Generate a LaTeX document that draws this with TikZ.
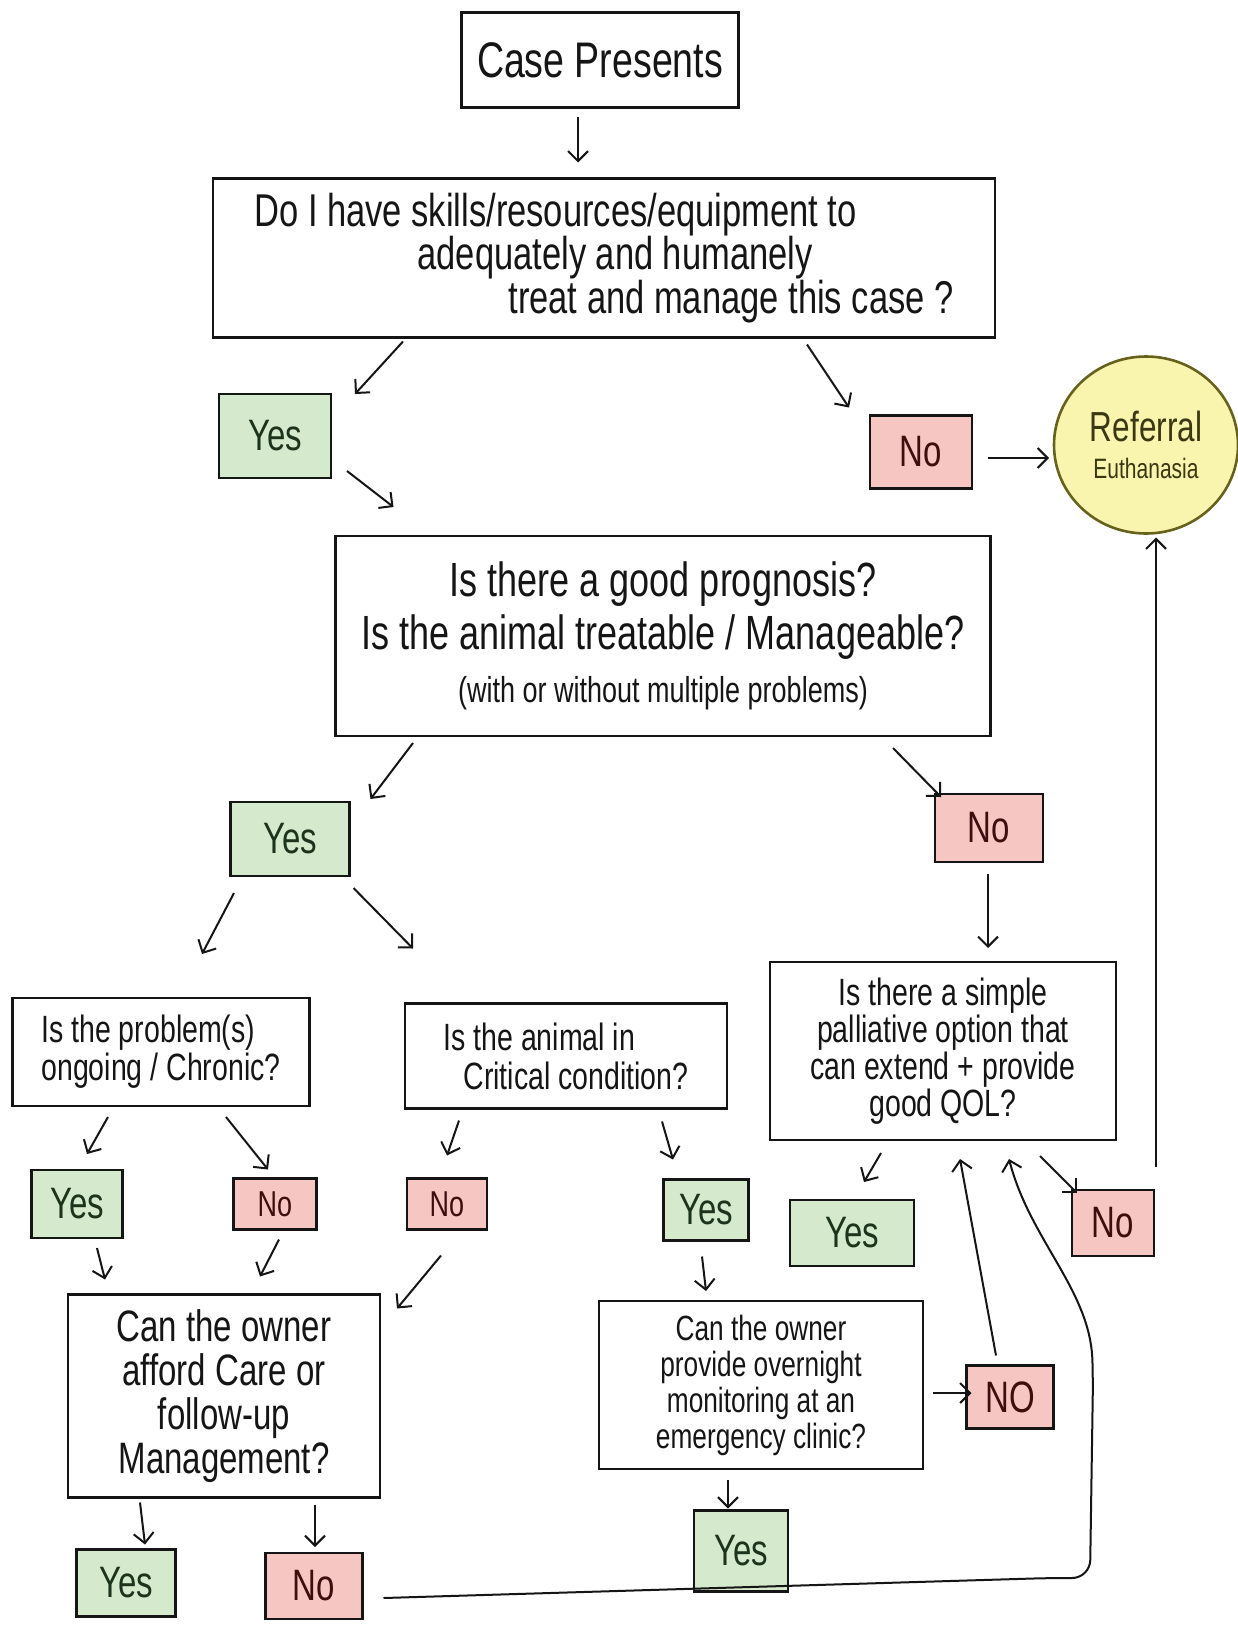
\documentclass[tikz,border=0pt]{standalone}
\usepackage{fontspec}
\setmainfont{Liberation Sans}[FakeStretch=0.75]
\usetikzlibrary{arrows.meta,shapes.geometric}
\definecolor{ink}{HTML}{151515}
\definecolor{yesfill}{HTML}{D5EACD}
\definecolor{yesink}{HTML}{1C331C}
\definecolor{nofill}{HTML}{F5C6C2}
\definecolor{noink}{HTML}{3E0D0D}
\definecolor{reffill}{HTML}{F9F4AE}
\definecolor{refedge}{HTML}{66621C}
\definecolor{refink}{HTML}{3A3812}
\newcommand{\fs}[2]{\fontsize{#1}{#2}\selectfont}

\begin{document}
\begin{tikzpicture}[
  x=1pt, y=-1pt,
  every node/.style={inner sep=0pt, outer sep=0pt, text=ink},
  qbox/.style={draw=ink, line width=2.8pt, fill=white, align=center},
  ans/.style={draw=ink, line width=2.6pt, font=\fs{44}{44}},
  yesbox/.style={ans, fill=yesfill, text=yesink},
  nobox/.style={ans, fill=nofill, text=noink},
  flow/.style={-{Straight Barb[length=10pt,width=20pt]}, line width=2pt, draw=ink},
]
\path[use as bounding box, fill=white] (0,0) rectangle (1238,1648);

% ---------------------------------------------------------------- first question
\node[qbox, minimum width=277, minimum height=95, font=\fs{50}{50}]
     (start) at (600,60) {Case Presents};

\node[qbox, minimum width=782, minimum height=159, align=left, font=\fs{46}{42}]
     (q1) at (604,258)
  {Do I have skills/resources/equipment to\\
   \hspace*{163pt}adequately and humanely\\
   \hspace*{254pt}treat and manage this case ?};

\node[yesbox, minimum width=112, minimum height=84] (yes1) at (275,436) {Yes};
\node[nobox, minimum width=102, minimum height=73]  (no1)  at (921,452) {No};

\node[ellipse, draw=refedge, line width=2.6pt, fill=reffill, text=refink,
      minimum width=184, minimum height=177, align=center]
     (refer) at (1146,445)
  {{\fs{42}{42}Referral}\\[16pt]{\fs{28}{28}Euthanasia}};

% ---------------------------------------------------------------- prognosis
\node[qbox, minimum width=655, minimum height=200, font=\fs{48}{53}]
     (q2) at (663,636)
  {Is there a good prognosis?\\
   Is the animal treatable / Manageable?\\
   {\fs{36}{40}(with or without multiple problems)}};

\node[yesbox, minimum width=119, minimum height=74] (yes2) at (290,839) {Yes};
\node[nobox, minimum width=108, minimum height=68]  (no2)  at (989,828) {No};

% ---------------------------------------------------------------- second row of questions
\node[qbox, minimum width=297, minimum height=108, align=left, font=\fs{38}{38}]
     (q3) at (161,1052)
  {Is the problem(s)\\ongoing / Chronic?};

\node[qbox, minimum width=322, minimum height=105, align=left, font=\fs{38}{39}]
     (q4) at (566,1056)
  {Is the animal in\\\hspace*{20pt}Critical condition?};

\node[qbox, minimum width=346, minimum height=178, font=\fs{38}{37}]
     (q5) at (943,1051)
  {Is there a simple\\palliative option that\\can extend + provide\\good QOL?};

\node[yesbox, minimum width=91, minimum height=68]  (yes3) at (77,1204)  {Yes};
\node[nobox, minimum width=83, minimum height=51, font=\fs{36}{36}]
     (no3) at (275,1204) {No};
\node[nobox, minimum width=80, minimum height=51, font=\fs{36}{36}]
     (no4) at (447,1204) {No};
\node[yesbox, minimum width=85, minimum height=61]  (yes4) at (706,1210) {Yes};
\node[yesbox, minimum width=124, minimum height=66] (yes5) at (852,1233) {Yes};
\node[nobox, minimum width=82, minimum height=66]   (no5)  at (1113,1223) {No};

% ---------------------------------------------------------------- owner questions
\node[qbox, minimum width=312, minimum height=203, font=\fs{44}{44}]
     (q6) at (224,1396)
  {Can the owner\\afford Care or\\follow-up\\Management?};

\node[qbox, minimum width=324, minimum height=168, font=\fs{35}{36}]
     (q7) at (761,1385)
  {Can the owner\\provide overnight\\monitoring at an\\emergency clinic?};

\node[nobox, minimum width=87, minimum height=63] (no6)  at (1010,1397) {NO};
\node[yesbox, minimum width=99, minimum height=67] (yes6) at (126,1583) {Yes};
\node[nobox, minimum width=97, minimum height=66]  (no7)  at (314,1586) {No};
\node[yesbox, minimum width=94, minimum height=81] (yes7) at (741,1551) {Yes};

% ---------------------------------------------------------------- flow
\draw[flow] ([xshift=-22pt,yshift=-10pt]start.south) -- ([xshift=-26pt,yshift=16pt]q1.north);
\draw[flow] ([xshift=-201pt,yshift=-4pt]q1.south) -- ([xshift=24pt]yes1.north east);
\draw[flow] ([xshift=203pt,yshift=-7pt]q1.south) -- ([xshift=-21pt,yshift=8pt]no1.north west);
\draw[flow] ([xshift=16pt,yshift=-6pt]no1.east) -- ([xshift=-5pt,yshift=-13pt]refer.west);
\draw[flow] ([xshift=16pt,yshift=7pt]yes1.south east) -- ([xshift=58pt,yshift=29pt]q2.north west);

\draw[flow] ([xshift=-250pt,yshift=-7pt]q2.south) -- ([xshift=21pt,yshift=3pt]yes2.north east);
\draw[flow] ([xshift=230pt,yshift=-12pt]q2.south) -- ([xshift=6pt,yshift=-3pt]no2.north west);
\draw[flow] ([xshift=-1pt,yshift=-12pt]no2.south) -- ([xshift=45pt,yshift=14pt]q5.north);
\draw[flow] ([xshift=-56pt,yshift=-17pt]yes2.south) -- ([xshift=41pt,yshift=44pt]q3.north);
\draw[flow] ([xshift=4pt,yshift=-12pt]yes2.south east) -- ([xshift=8pt,yshift=55pt]q4.north west);

\draw[flow] ([xshift=-53pt,yshift=-11pt]q3.south) -- ([xshift=10pt,yshift=16pt]yes3.north);
\draw[flow] ([xshift=65pt,yshift=-11pt]q3.south) -- ([xshift=-7pt,yshift=9pt]no3.north);
\draw[flow] ([xshift=-107pt,yshift=-12pt]q4.south) -- ([yshift=23pt]no4.north);
\draw[flow] ([xshift=96pt,yshift=-13pt]q4.south) -- ([xshift=-33pt,yshift=20pt]yes4.north);
\draw[flow] ([xshift=-62pt,yshift=-13pt]q5.south) -- ([xshift=12pt,yshift=18pt]yes5.north);
\draw[flow] ([xshift=97pt,yshift=-16pt]q5.south) -- ([xshift=5pt,yshift=-3pt]no5.north west);
\draw[flow] ([xshift=2pt,yshift=23pt]no5.north east) -- ([xshift=10pt,yshift=-4pt]refer.south);

\draw[flow] ([xshift=20pt,yshift=-10pt]yes3.south) -- ([xshift=37pt,yshift=15pt]q6.north west);
\draw[flow] ([xshift=4pt,yshift=-10pt]no3.south) -- ([xshift=36pt,yshift=18pt]q6.north);
\draw[flow] ([xshift=-6pt,yshift=-26pt]no4.south) -- ([xshift=17pt,yshift=-14pt]q6.north east);
\draw[flow] ([xshift=-4pt,yshift=-16pt]yes4.south) -- ([xshift=-55pt,yshift=10pt]q7.north);
\draw[flow] ([xshift=10pt,yshift=-8pt]q7.east) -- ([xshift=5pt,yshift=4pt]no6.west);
\draw[flow] ([xshift=-14pt,yshift=10pt]no6.north) -- ([xshift=17pt,yshift=-19pt]q5.south);

\draw[flow] ([xshift=-84pt,yshift=-5pt]q6.south) -- ([xshift=19pt,yshift=5pt]yes6.north);
\draw[flow] ([xshift=91pt,yshift=-7pt]q6.south) -- ([xshift=1pt,yshift=6pt]no7.north);
\draw[flow] ([xshift=-33pt,yshift=-11pt]q7.south) -- ([xshift=-13pt,yshift=2pt]yes7.north);

% long way back from the owner's No
\coordinate (back) at (1090,1578);
\draw[flow, rounded corners=18pt] ([xshift=21pt,yshift=-12pt]no7.east)
  -- ([xshift=-40pt]back) -- (back) -- ++(3,-200)
  .. controls (1090,1290) and (1030,1240) .. ([xshift=66pt,yshift=-19pt]q5.south);

\end{tikzpicture}
\end{document}
